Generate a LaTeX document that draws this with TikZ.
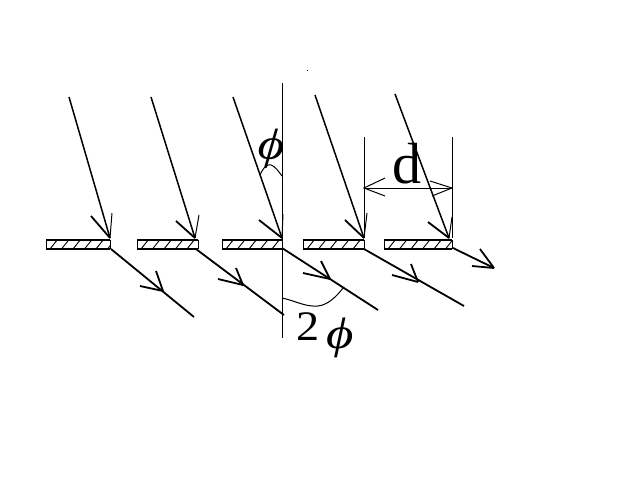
\documentclass[tikz,border=0pt]{standalone}
\usepackage{fontspec}
\setmainfont{Liberation Serif}
\begin{document}
\begin{tikzpicture}[x=1pt,y=-1pt,
  ray/.style={draw=black,line width=1.5pt},
  diff/.style={draw=black,line width=1.8pt},
  barb/.style={draw=black,line width=1.8pt},
  thin line/.style={draw=black,line width=1pt},
  edge line/.style={draw=black,line width=2pt},
  hatch/.style={draw=black,line width=0.9pt},
  label text/.style={inner sep=0pt,text=black}]
\useasboundingbox[fill=white] (0,0) rectangle (640,480);
% strips
\foreach \a/\b in {46/110,137/198,222/282,303/364,384/452}{
  \begin{scope}
    \clip (\a,240) rectangle (\b,248);
    \foreach \k in {-1,...,6}{
      \draw[hatch] ({\a+4+\k*11.5},249) -- ({\a+12+\k*11.5},239);
    }
  \end{scope}
  \draw[edge line] (\a,240) -- (\b,240);
  \draw[edge line] (\a,248.5) -- (\b,248.5);
  \draw[thin line] (\a,240) -- (\a,248.5);
  \draw[thin line] (\b,240) -- (\b,248.5);
}
% incident rays
\foreach \n/\sx/\sy/\ex/\ey/\ax/\ay/\bx/\by in {
  1/69/97/110/238/91/216/112/213,
  2/151/97/195/238/176/221/199/215,
  3/233/97/282/238/259/220/283/214,
  4/315/95/364/238/345/220/367/213,
  5/395/94/449/238/428/222/452/217}{
  \coordinate (in\n) at (\sx,\sy);
  \coordinate (tip\n) at (\ex,\ey);
  \coordinate (ia\n) at (\ax,\ay);
  \coordinate (ib\n) at (\bx,\by);
  \draw[ray] (in\n) -- (tip\n);
  \draw[barb] (ia\n) -- (tip\n);
  \draw[thin line] (ib\n) -- (tip\n);
}
% diffracted rays
\foreach \n/\sx/\sy/\ex/\ey/\tx/\ty/\ax/\ay/\bx/\by in {
  1/111/249/194/317/163/291/140/286/156/271,
  2/196/249/284/315/243/285/218/279/236/268,
  3/282/248/378/310/330/279/303/273/321/261,
  4/364/249/464/306/418/282/392/275/411/264,
  5/453/248/494/268/494/268/472/266/480/249}{
  \coordinate (os\n) at (\sx,\sy);
  \coordinate (oe\n) at (\ex,\ey);
  \coordinate (ot\n) at (\tx,\ty);
  \coordinate (oa\n) at (\ax,\ay);
  \coordinate (ob\n) at (\bx,\by);
  \draw[diff] (os\n) -- (oe\n);
  \draw[barb] (oa\n) -- (ot\n);
  \draw[barb] (ob\n) -- (ot\n);
}
% normal
\coordinate (ntop) at (282,83);
\coordinate (nbot) at (282,338);
\draw[thin line] (ntop) -- (nbot);
\fill[black] (307,70) rectangle (308,71);
% d dimension
\coordinate (dlt) at (364,137);
\coordinate (dlb) at (364,238);
\coordinate (drt) at (452,137);
\coordinate (drb) at (452,238);
\coordinate (dl) at (364,188);
\coordinate (dr) at (452,188);
\draw[thin line] (dlt) -- (dlb);
\draw[thin line] (drt) -- (drb);
\draw[thin line] (dl) -- (dr);
\draw[thin line] (385,178) -- (dl) -- (385,196);
\draw[thin line] (430,181) -- (dr) -- (432,196);
\node[label text,font=\fontsize{58}{58}\selectfont] (dlabel) at (407,164) {d};
% angle arcs
\draw[thin line] (260,175) .. controls (264,166) and (268,164) .. (271,165) .. controls (275,166) and (279,172) .. (282,176);
\draw[thin line] (282,298) .. controls (296,301) and (305,307) .. (318,306) .. controls (328,305) and (337,296) .. (343,288);
% labels
\node[label text,font=\fontsize{44}{44}\selectfont\itshape,xscale=1.15,rotate=-4] (phi) at (271,149) {ϕ};
\node[label text,font=\fontsize{42}{42}\selectfont,xscale=1.1] (two) at (308,327) {2};
\node[label text,font=\fontsize{44}{44}\selectfont\itshape,xscale=1.2] (phib) at (340,338) {ϕ};
\end{tikzpicture}
\end{document}
